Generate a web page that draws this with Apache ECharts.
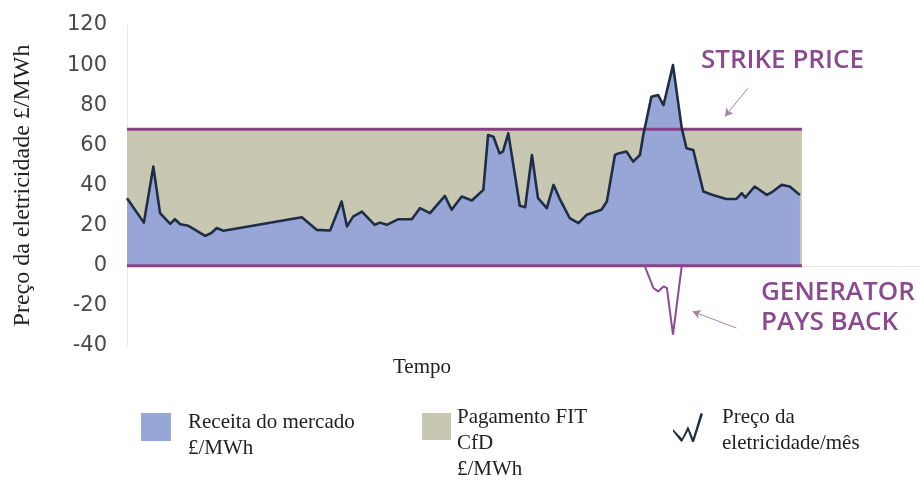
<!DOCTYPE html>
<html>
<head>
<meta charset="utf-8">
<script src="https://cdn.jsdelivr.net/npm/echarts@6/dist/echarts.min.js"></script>
<style>html,body{margin:0;padding:0;background:#fff;}#chart{width:922px;height:481px;}</style>
</head>
<body>
<div id="chart"></div>
<script>
// Tempo (unidades arbitrárias, 0 = início, 100 = fim do período)
const time = [0, 2.5, 3.9, 4.9, 6.4, 7.1, 7.9, 9.1, 11.6, 12.5, 13.3, 14.3, 25.9, 28.1, 30.1, 31.8, 32.6, 33.5, 34.8, 36.7, 37.5, 38.5, 40.2, 42.2, 43.4, 44.9, 47.1, 48.1, 49.6, 51.1, 52.8, 53.5, 54.3, 55.2, 55.7, 56.5, 58.2, 59.0, 60.0, 60.9, 62.2, 63.2, 64.1, 65.6, 66.9, 68.1, 70.3, 71.1, 72.3, 72.8, 74.0, 75.0, 76.0, 76.5, 77.7, 78.7, 79.5, 80.9, 82.2, 82.9, 83.9, 85.4, 86.8, 88.8, 90.3, 91.1, 91.6, 93.0, 94.8, 95.7, 97.0, 98.2, 99.7];
// Preço da eletricidade £/MWh
const price = [33.7, 21.5, 49.4, 26.2, 20.9, 23.2, 20.7, 19.9, 14.9, 16.3, 18.8, 17.4, 24.2, 17.9, 17.6, 32, 19.6, 24.5, 27, 20.4, 21.5, 20.4, 23.2, 23.2, 28.7, 26.2, 34.8, 27.9, 34.5, 32.5, 37.8, 65.2, 64.3, 56, 56.9, 66, 29.9, 29.2, 55.2, 33.7, 28.7, 40.3, 33.5, 23.7, 21.2, 25.4, 27.9, 32, 55.2, 56, 56.9, 51.9, 55.2, 65.2, 84.2, 85.1, 80.1, 100, 68.5, 58.6, 57.7, 37, 35.3, 33.3, 33.3, 36.2, 34, 39.5, 35.3, 37, 40.3, 39.5, 35.3];
// Gerador devolve (abaixo de zero)
const paybackTime = [76.7, 78.0, 78.7, 79.5, 80.0, 80.9, 82.2];
const payback = [0, -11.1, -12.8, -10.3, -11.1, -34.3, 0];
const strikePrice = 68;
const periodStart = 0;
const periodEnd = 100;
const seriesNames = ['Receita do mercado\n£/MWh', 'Pagamento FIT\nCfD\n£/MWh', 'Preço da\neletricidade/mês'];
const annotations = ['STRIKE PRICE', 'GENERATOR\nPAYS BACK'];
const axisNames = ['Preço da eletricidade £/MWh', 'Tempo'];

const pricePairs = time.map((t, i) => [t, price[i]]);
const paybackPairs = paybackTime.map((t, i) => [t, payback[i]]);
const bandPairs = [[periodStart, strikePrice], [periodEnd, strikePrice]];
const zeroPairs = [[periodStart, 0], [periodEnd, 0]];

const serif = '"Liberation Serif", "DejaVu Serif", serif';
const purple = '#8a3f88';
const navy = '#1f2d47';
const blue = '#97a6d6';
const beige = '#c8c8b2';
const annoColor = '#8b4a8f';
const dot = (y) => ' M0,' + y + ' L0.01,' + y + ' L0,' + (y - 0.01) + ' Z';

const legendText = (padLeft) => ({fontFamily: serif, fontSize: 21, lineHeight: 26, color: '#222', padding: [0, 0, 0, padLeft]});

const chart = echarts.init(document.getElementById('chart'), null, {renderer: 'canvas'});
chart.setOption({
  animation: false,
  backgroundColor: '#ffffff',
  grid: {left: 127, right: 2, top: 25, bottom: 135, containLabel: false, outerBoundsMode: 'none'},
  xAxis: {
    type: 'value', min: 0, max: 117.5,
    axisLine: {show: true, lineStyle: {color: '#e4e4e4', width: 1}},
    axisTick: {show: false}, axisLabel: {show: false}, splitLine: {show: false}
  },
  yAxis: {
    type: 'value', min: -40, max: 120, interval: 20,
    name: axisNames[0], nameLocation: 'middle', nameGap: 92, nameRotate: 90,
    nameTextStyle: {fontFamily: serif, fontSize: 24, color: '#222'},
    axisLine: {show: true, lineStyle: {color: '#e8e8e8', width: 1}},
    axisTick: {show: false}, splitLine: {show: false},
    axisLabel: {fontFamily: '"DejaVu Sans"', fontSize: 21, color: '#4a4a4a', margin: 20}
  },
  legend: [
    {data: [seriesNames[0]], left: 141, top: 409, padding: 0, selectedMode: false,
     icon: 'path://M0,0 L30,0 L30,28 L0,28 Z' + dot(44), itemWidth: 30, itemHeight: 44,
     itemStyle: {borderWidth: 0}, textStyle: legendText(12)},
    {data: [seriesNames[1]], left: 422, top: 404.5, padding: 0, selectedMode: false,
     icon: 'path://M0,0 L29,0 L29,27 L0,27 Z' + dot(61), itemWidth: 29, itemHeight: 61,
     itemStyle: {borderWidth: 0}, textStyle: legendText(1)},
    {data: [seriesNames[2]], left: 673, top: 404, padding: 0, selectedMode: false,
     icon: 'path://M0,16 L9,25.5 L15,13 L20,25 L27.5,0 L30,1 L21,29 L19,29 L15,18 L9,29 L7.5,28 L0,18.5 Z' + dot(34),
     itemWidth: 30, itemHeight: 34, itemStyle: {borderWidth: 0, color: navy}, textStyle: legendText(14)}
  ],
  series: [
    {name: seriesNames[1], type: 'line', data: bandPairs, symbol: 'none', z: 1,
     color: beige, lineStyle: {width: 0}, areaStyle: {color: beige, opacity: 1}},
    {name: seriesNames[0], type: 'line', data: pricePairs, symbol: 'none', z: 2,
     color: blue, lineStyle: {width: 0}, areaStyle: {color: blue, opacity: 1}},
    {name: 'strike', type: 'line', data: bandPairs, symbol: 'none', z: 3,
     lineStyle: {color: purple, width: 3}},
    {name: 'zero', type: 'line', data: zeroPairs, symbol: 'none', z: 3,
     lineStyle: {color: purple, width: 3}},
    {name: 'payback', type: 'line', data: paybackPairs, symbol: 'none', z: 3,
     lineStyle: {color: '#8e4a96', width: 2},
     markLine: {silent: true, symbol: ['none', 'arrow'], symbolSize: [7, 8],
       label: {show: false}, lineStyle: {color: '#a585a5', width: 1, type: 'solid'},
       data: [
         [{coord: [92.0, 88.5]}, {coord: [88.6, 74.4]}],
         [{coord: [90.3, -31.0]}, {coord: [83.8, -22.8]}]
       ]}},
    {name: seriesNames[2], type: 'line', data: pricePairs, symbol: 'none', z: 4,
     color: navy, lineStyle: {color: navy, width: 2.6, join: 'round'}}
  ],
  graphic: [
    {type: 'text', left: 393, top: 357, style: {text: axisNames[1], font: '21px ' + serif, fill: '#222'}},
    {type: 'text', x: 701, y: 61, style: {text: annotations[0], font: '600 26px "Open Sans"', fill: annoColor, verticalAlign: 'middle'}},
    {type: 'text', x: 761, y: 308, style: {text: annotations[1], font: '600 26px "Open Sans"', fill: annoColor, lineHeight: 30, verticalAlign: 'middle'}}
  ]
});
</script>
</body>
</html>
